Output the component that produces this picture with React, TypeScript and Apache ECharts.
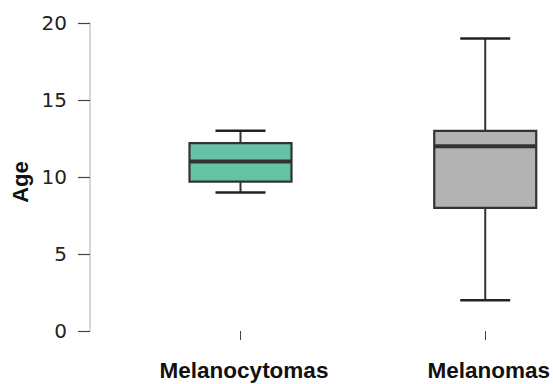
import React, { useEffect, useRef } from "react";
import * as echarts from "echarts";

const categories = ["Melanocytomas", "Melanomas"];
// [min, Q1, median, Q3, max]
const boxStats = [
  [9, 9.7, 11, 12.2, 13],
  [2, 8, 12, 13, 19],
];
const boxColors = ["#66c2a5", "#b3b3b3"];
const yTicks = { min: 0, max: 20, interval: 5 };
const yTitle = "Age";

export default function App() {
  const ref = useRef<HTMLDivElement>(null);
  useEffect(() => {
    document.body.style.margin = "0";
    if (!ref.current) return;
    const chart = echarts.init(ref.current, null, { renderer: "svg" });
    const data = boxStats.map((s, i) => [i, ...s]);
    const BOX_W = 102;
    const CAP_W = 50;
    chart.setOption({
      animation: false,
      grid: { left: 240.5, right: 61, top: 23, bottom: 53 },
      graphic: [
        {
          type: "text",
          x: 20,
          y: 182,
          rotation: Math.PI / 2,
          style: {
            text: yTitle,
            fontFamily: "Liberation Sans",
            fontWeight: "bold",
            fontSize: 22,
            fill: "#111",
            align: "center",
            verticalAlign: "middle",
          },
        },
      ],
      xAxis: {
        type: "category",
        data: categories,
        boundaryGap: false,
        offset: 17,
        axisLine: { show: false },
        axisTick: { show: true, length: 9, lineStyle: { color: "#444", width: 1 } },
        axisLabel: {
          margin: 11,
          fontFamily: "Liberation Sans",
          fontWeight: "bold",
          fontSize: 22.5,
          color: "#111",
          padding: [0, 0, 0, 7],
        },
        splitLine: { show: false },
      },
      yAxis: {
        type: "value",
        min: yTicks.min,
        max: yTicks.max,
        interval: yTicks.interval,
        offset: 150.5,
        axisLine: { show: true, lineStyle: { color: "#c8c8c8", width: 1.5 } },
        axisTick: { show: true, length: 12, lineStyle: { color: "#444", width: 1.2 } },
        axisLabel: {
          margin: 23,
          fontFamily: "DejaVu Sans",
          fontSize: 20,
          color: "#222",
        },
        splitLine: { show: false },
      },
      series: [
        {
          type: "custom",
          data,
          clip: false,
          renderItem: (params: any, api: any) => {
            const idx = api.value(0);
            const pMin = api.coord([idx, api.value(1)]);
            const pQ1 = api.coord([idx, api.value(2)]);
            const pMed = api.coord([idx, api.value(3)]);
            const pQ3 = api.coord([idx, api.value(4)]);
            const pMax = api.coord([idx, api.value(5)]);
            const cx = pMin[0];
            const lineStyle = { stroke: "#333", lineWidth: 2 };
            const capStyle = { stroke: "#222", lineWidth: 2.5 };
            return {
              type: "group",
              children: [
                { type: "line", shape: { x1: cx, y1: pMax[1], x2: cx, y2: pQ3[1] }, style: lineStyle },
                { type: "line", shape: { x1: cx, y1: pQ1[1], x2: cx, y2: pMin[1] }, style: lineStyle },
                { type: "line", shape: { x1: cx - CAP_W / 2, y1: pMax[1], x2: cx + CAP_W / 2, y2: pMax[1] }, style: capStyle },
                { type: "line", shape: { x1: cx - CAP_W / 2, y1: pMin[1], x2: cx + CAP_W / 2, y2: pMin[1] }, style: capStyle },
                {
                  type: "rect",
                  shape: { x: cx - BOX_W / 2, y: pQ3[1], width: BOX_W, height: pQ1[1] - pQ3[1] },
                  style: { fill: boxColors[params.dataIndex], stroke: "#333", lineWidth: 2.2 },
                },
                { type: "line", shape: { x1: cx - BOX_W / 2, y1: pMed[1], x2: cx + BOX_W / 2, y2: pMed[1] }, style: { stroke: "#333", lineWidth: 4 } },
              ],
            };
          },
        },
      ],
    });
    return () => chart.dispose();
  }, []);
  return <div ref={ref} style={{ width: 553, height: 384 }} />;
}
